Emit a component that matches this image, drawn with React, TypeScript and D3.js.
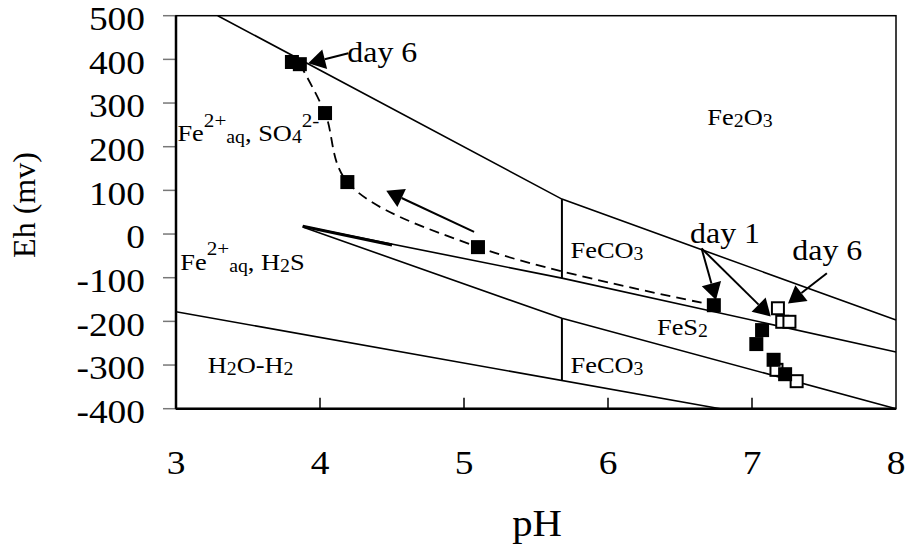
import React, { useRef, useEffect } from 'react';
import * as d3 from 'd3';

// boundary lines of the Eh-pH diagram
const upperPH = [3.29, 5.68, 8];
const upperEh = [500, 80, -197];
const fes2TopPH = [3.88, 5.68, 8];
const fes2TopEh = [18, -101, -270];
const fes2BotPH = [3.88, 5.68, 8];
const fes2BotEh = [16, -193, -400];
const wedgePH = [3.88, 4.5];
const wedgeEh = [18, -25];
const waterPH = [3, 6.78];
const waterEh = [-178, -400];
const carbUpPH = [5.68, 5.68];
const carbUpEh = [80, -101];
const carbLowPH = [5.68, 5.68];
const carbLowEh = [-193, -335];

// measured points
const filledPH = [3.805, 3.86, 4.035, 4.19, 5.097, 6.735, 7.07, 7.03, 7.15, 7.23];
const filledEh = [394, 389, 277, 119, -30, -163, -220, -252, -288, -321];
const openPH = [7.18, 7.21, 7.26, 7.17, 7.31];
const openEh = [-170, -201, -201, -311, -337];
const trendPH = [3.86, 4.035, 4.19, 5.097, 6.735];
const trendEh = [389, 277, 119, -30, -163];

const xTicks = [3, 4, 5, 6, 7, 8];
const yTicks = [-400, -300, -200, -100, 0, 100, 200, 300, 400, 500];

// annotation arrows: [fromPH, fromEh, tipPH, tipEh]
const arrows = [
  [4.197, 414, 3.918, 391],
  [5.07, 5, 4.46, 99],
  [6.65, -33, 6.75, -151],
  [6.65, -33, 7.13, -189],
  [7.52, -90, 7.25, -159],
];

// labels: [pH, Eh, size, parts]
const labels = [
  [6.69, 250, 24, [['Fe', 'n'], ['2', 'sub'], ['O', 'n'], ['3', 'sub']]],
  [3.01, 212, 24, [['Fe', 'n'], ['2+', 'sup'], ['aq', 'sub'], [', SO', 'n'], ['4', 'sub'], ['2-', 'sup']]],
  [3.03, -82, 24, [['Fe', 'n'], ['2+', 'sup'], ['aq', 'sub'], [', H', 'n'], ['2', 'sub'], ['S', 'n']]],
  [5.74, -56, 24, [['FeCO', 'n'], ['3', 'sub']]],
  [5.74, -319, 24, [['FeCO', 'n'], ['3', 'sub']]],
  [6.34, -231, 24, [['FeS', 'n'], ['2', 'sub']]],
  [3.22, -319, 24, [['H', 'n'], ['2', 'sub'], ['O-H', 'n'], ['2', 'sub']]],
  [4.19, 395, 29, [['day 6', 'n']]],
  [6.57, -21, 29, [['day 1', 'n']]],
  [7.28, -60, 29, [['day 6', 'n']]],
];

const FONT = '"Liberation Serif", "Times New Roman", serif';

function App() {
  const svgRef = useRef(null);

  useEffect(() => {
    const svg = d3.select(svgRef.current);
    svg.selectAll('*').remove();

    const left = 176, right = 896, top = 15.7, bottom = 408.7;
    const x = d3.scaleLinear().domain([3, 8]).range([left, right]);
    const y = d3.scaleLinear().domain([-400, 500]).range([bottom, top]);

    const rich = (g, parts, px, py, size, sx = 1.1) => {
      const t = g.append('text')
        .attr('transform', `translate(${px},${py}) scale(${sx},1)`)
        .attr('font-family', FONT)
        .attr('font-size', size)
        .attr('fill', '#000');
      let cur = 0;
      parts.forEach(([str, mode]) => {
        const s = mode === 'n' ? size : mode === 'sup' ? size * 0.8 : size * 0.75;
        const off = mode === 'sub' ? size * 0.08 : mode === 'sup' ? -size * 0.62 : 0;
        t.append('tspan').attr('dy', off - cur).attr('font-size', s).text(str);
        cur = off;
      });
    };

    // y ticks (outside, grey)
    svg.append('g').selectAll('line').data(yTicks).join('line')
      .attr('x1', left - 13).attr('x2', left)
      .attr('y1', d => y(d)).attr('y2', d => y(d))
      .attr('stroke', '#777').attr('stroke-width', 1.5);

    svg.append('g').selectAll('text').data(yTicks).join('text')
      .attr('transform', d => `translate(145,${y(d)}) scale(1.1,1)`)
      .attr('dy', '0.42em')
      .attr('text-anchor', 'end')
      .attr('font-family', FONT).attr('font-size', 34)
      .text(d => d);

    // x ticks (inside)
    svg.append('g').selectAll('line').data(xTicks.slice(1, -1)).join('line')
      .attr('x1', d => x(d)).attr('x2', d => x(d))
      .attr('y1', bottom).attr('y2', bottom - 11)
      .attr('stroke', '#000').attr('stroke-width', 1.5);

    svg.append('g').selectAll('text').data(xTicks).join('text')
      .attr('transform', d => `translate(${x(d)},474) scale(1.1,1)`)
      .attr('text-anchor', 'middle')
      .attr('font-family', FONT).attr('font-size', 34)
      .text(d => d);

    // frame
    svg.append('rect')
      .attr('x', left).attr('y', top)
      .attr('width', right - left).attr('height', bottom - top)
      .attr('fill', 'none').attr('stroke', '#000').attr('stroke-width', 1.5);
    svg.append('line')
      .attr('x1', left).attr('x2', left).attr('y1', top).attr('y2', bottom)
      .attr('stroke', '#000').attr('stroke-width', 2.5);
    svg.append('line')
      .attr('x1', left).attr('x2', right).attr('y1', bottom).attr('y2', bottom)
      .attr('stroke', '#000').attr('stroke-width', 2.5);

    // boundaries
    const line = d3.line().x(d => x(d[0])).y(d => y(d[1]));
    const bounds = [
      [upperPH, upperEh, 1.6],
      [fes2TopPH, fes2TopEh, 1.6],
      [fes2BotPH, fes2BotEh, 1.6],
      [wedgePH, wedgeEh, 3],
      [waterPH, waterEh, 1.6],
      [carbUpPH, carbUpEh, 2],
      [carbLowPH, carbLowEh, 2],
    ];
    const gb = svg.append('g');
    bounds.forEach(([px, py, w]) => {
      gb.append('path')
        .attr('d', line(px.map((v, i) => [v, py[i]])))
        .attr('fill', 'none').attr('stroke', '#000').attr('stroke-width', w);
    });

    // trend (dashed, smoothed)
    const curve = d3.line().x(d => x(d[0])).y(d => y(d[1])).curve(d3.curveCatmullRom.alpha(0.5));
    svg.append('path')
      .attr('d', curve(trendPH.map((v, i) => [v, trendEh[i]])))
      .attr('fill', 'none').attr('stroke', '#000').attr('stroke-width', 1.8)
      .attr('stroke-dasharray', '10,6');

    // open squares
    const os = 12;
    svg.append('g').selectAll('rect').data(openPH.map((v, i) => [v, openEh[i]])).join('rect')
      .attr('x', d => x(d[0]) - os / 2).attr('y', d => y(d[1]) - os / 2)
      .attr('width', os).attr('height', os)
      .attr('fill', '#fff').attr('stroke', '#000').attr('stroke-width', 2);

    // filled squares
    const fs = 14;
    svg.append('g').selectAll('rect').data(filledPH.map((v, i) => [v, filledEh[i]])).join('rect')
      .attr('x', d => x(d[0]) - fs / 2).attr('y', d => y(d[1]) - fs / 2)
      .attr('width', fs).attr('height', fs)
      .attr('fill', '#000');

    // arrows
    const ga = svg.append('g');
    arrows.forEach(([fx, fy, tx, ty]) => {
      const x1 = x(fx), y1 = y(fy), x2 = x(tx), y2 = y(ty);
      const len = Math.hypot(x2 - x1, y2 - y1);
      const ux = (x2 - x1) / len, uy = (y2 - y1) / len;
      const hl = 17, hw = 10;
      const bx = x2 - ux * hl, by = y2 - uy * hl;
      ga.append('line')
        .attr('x1', x1).attr('y1', y1).attr('x2', bx).attr('y2', by)
        .attr('stroke', '#000').attr('stroke-width', 2);
      ga.append('polygon')
        .attr('points', [[x2, y2], [bx - uy * hw, by + ux * hw], [bx + uy * hw, by - ux * hw]].map(p => p.join(',')).join(' '))
        .attr('fill', '#000');
    });

    // labels
    const gl = svg.append('g');
    labels.forEach(([px, py, size, parts]) => rich(gl, parts, x(px), y(py), size));

    // axis titles
    svg.append('text')
      .attr('transform', 'translate(537,536) scale(1.1,1)')
      .attr('text-anchor', 'middle')
      .attr('font-family', FONT).attr('font-size', 37)
      .text('pH');
    svg.append('text')
      .attr('transform', 'translate(35,205) rotate(-90)')
      .attr('text-anchor', 'middle')
      .attr('font-family', FONT).attr('font-size', 32)
      .text('Eh (mv)');
  }, []);

  return (
    <svg ref={svgRef} width={909} height={548}
      style={{ position: 'absolute', left: 0, top: 0, background: '#fff' }} />
  );
}

export default App;
